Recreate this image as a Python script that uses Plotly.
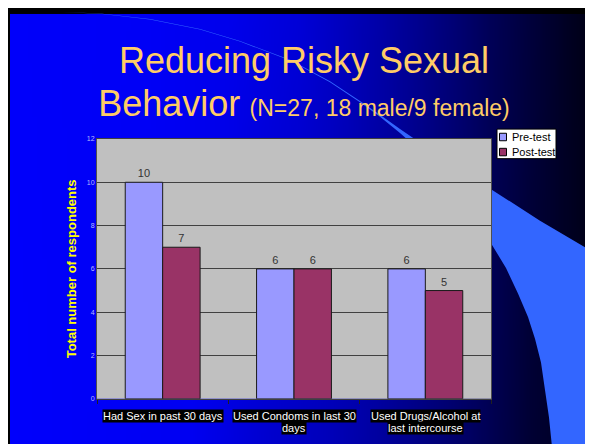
import base64
import struct
import zlib

import plotly.graph_objects as go

# ---------------- data ----------------
categories = [
    "Had Sex in past 30 days",
    "Used Condoms in last 30<br>days",
    "Used Drugs/Alcohol at<br>last intercourse",
]
pre_test = [10, 6, 6]
post_test = [7, 6, 5]
series_names = ["Pre-test", "Post-test"]
series_colors = ["#9999FF", "#993366"]
y_ticks = [0, 2, 4, 6, 8, 10, 12]

# page has an 8px body margin; the figure overflows the window slightly
OFF = 8
W, H = 593, 444
FONT = "Liberation Sans, Arial"


def px(sx, sy):
    """screen pixel -> paper coordinates"""
    return (sx - OFF) / W, 1 - (sy - OFF) / H


# ---------------- background gradient image (styling only) ----------------
top_stops = [(10, 250), (150, 246), (230, 236), (300, 215), (340, 192), (380, 168),
             (416, 144), (460, 112), (492, 86), (548, 48), (575, 30), (601, 14)]
bot_stops = [(10, 252), (190, 242), (265, 208), (330, 185), (378, 160), (430, 125),
             (473, 96), (530, 52), (601, 22)]


def interp(stops, x):
    if x <= stops[0][0]:
        return stops[0][1]
    for (x0, v0), (x1, v1) in zip(stops, stops[1:]):
        if x0 <= x <= x1:
            return v0 + (v1 - v0) * (x - x0) / (x1 - x0)
    return stops[-1][1]


IW, IH = 120, 40
img_x0, img_y0 = 10, 10
img_x1, img_y1 = OFF + W, OFF + H
rows = []
for j in range(IH):
    t = j / (IH - 1)
    row = bytearray()
    for i in range(IW):
        xx = img_x0 + (img_x1 - img_x0) * (i + 0.5) / IW
        b = (1 - t) * interp(top_stops, xx) + t * interp(bot_stops, xx)
        row += bytes([0, 0, max(0, min(255, int(round(b))))])
    rows.append(bytes(row))


def chunk(tag, data):
    c = struct.pack(">I", len(data)) + tag + data
    return c + struct.pack(">I", zlib.crc32(tag + data) & 0xFFFFFFFF)


raw = b"".join(b"\x00" + r for r in rows)
png = (b"\x89PNG\r\n\x1a\n"
       + chunk(b"IHDR", struct.pack(">IIBBBBB", IW, IH, 8, 2, 0, 0, 0))
       + chunk(b"IDAT", zlib.compress(raw, 9))
       + chunk(b"IEND", b""))
bg_uri = "data:image/png;base64," + base64.b64encode(png).decode()

# ---------------- swoosh (decoration) ----------------
outer = [(62, 7.9), (100, 9.6), (150, 15.2), (200, 25.2), (240, 37.4), (290, 56.6),
         (330, 78.3), (360, 98.5), (380, 112.5), (400, 127), (445, 158), (491, 188),
         (540, 220), (610, 262)]
inner = [(553, 460), (549, 420), (545, 392), (541, 364), (535, 340), (528, 318),
         (518, 294), (506, 268), (491, 243), (470, 207), (445, 176), (420, 149),
         (400, 131), (380, 114.5), (360, 99.8), (330, 79.3), (290, 57.4), (240, 38),
         (200, 25.7), (150, 15.6), (100, 9.9), (62, 8)]
pts = outer + [(610, 460)] + inner
path = "M " + " L ".join("%.5f,%.5f" % px(x, y) for x, y in pts) + " Z"

# ---------------- figure ----------------
fig = go.Figure()
for name, vals, col in zip(series_names, [pre_test, post_test], series_colors):
    fig.add_trace(go.Bar(
        x=categories, y=vals, name=name,
        marker=dict(color=col, line=dict(color="#1a1a1a", width=1)),
        text=vals, textposition="outside", cliponaxis=False,
        textfont=dict(size=11, color="#333333", family=FONT),
    ))

annotations = []
# category labels drawn as black-highlighted text below the axis
label_rows = [418, 430.5]
for cat in categories:
    for k, line in enumerate(cat.split("<br>")):
        annotations.append(dict(
            x=cat, xref="x", y=px(0, label_rows[k])[1], yref="paper",
            text=line, showarrow=False, xanchor="center", yanchor="middle",
            font=dict(size=11, color="#FFFFFF", family=FONT),
            bgcolor="#000000", borderpad=0,
        ))

shapes = [
    # swoosh
    dict(type="path", xref="paper", yref="paper", path=path,
         fillcolor="#3366FF", line=dict(width=0), layer="below"),
    # silver plot area
    dict(type="rect", xref="x domain", yref="y domain", x0=0, x1=1, y0=0, y1=1,
         fillcolor="#C0C0C0", line=dict(width=0), layer="below"),
]

# legend box (white, black border) with swatches and labels
lx0, ly0 = px(497, 127)
lx1, ly1 = px(556, 157)
shapes.append(dict(type="rect", xref="paper", yref="paper", x0=lx0, x1=lx1,
                   y0=ly1, y1=ly0, fillcolor="#FFFFFF",
                   line=dict(color="#000000", width=1), layer="above"))
for k, (name, col) in enumerate(zip(series_names, series_colors)):
    cy = 135 + 15.3 * k
    sx0, sy0 = px(499.5, cy - 3.8)
    sx1, sy1 = px(506.5, cy + 3.8)
    shapes.append(dict(type="rect", xref="paper", yref="paper", x0=sx0, x1=sx1,
                       y0=sy1, y1=sy0, fillcolor=col,
                       line=dict(color="#000000", width=1), layer="above"))
    tx, ty = px(509.5, cy)
    annotations.append(dict(x=tx, y=ty, xref="paper", yref="paper", text=name,
                            showarrow=False, xanchor="left", yanchor="middle",
                            font=dict(size=11, color="#000000", family=FONT)))

title_text = ("<span style='font-size:36px'>Reducing Risky Sexual</span><br>"
              "<span style='font-size:36px'>Behavior</span> "
              "<span style='font-size:23px'>(N=27, 18 male/9 female)</span>")

tx, ty = px(304, 0)
fig.update_layout(
    width=W, height=H,
    margin=dict(l=0, r=0, t=0, b=0),
    paper_bgcolor="#000000",
    plot_bgcolor="rgba(0,0,0,0)",
    font=dict(family=FONT, color="#000000"),
    barmode="group", bargap=0.43, bargroupgap=0,
    showlegend=False,
    title=dict(
        text=title_text,
        x=tx, xanchor="center", xref="paper",
        y=1 - 65 / H, yanchor="top", yref="container",
        font=dict(size=33.3, color="#FFCC66", family=FONT),
    ),
    xaxis=dict(
        domain=[px(97, 0)[0], px(491, 0)[0]], type="category",
        showticklabels=False, ticks="outside", tickson="boundaries",
        ticklen=4, tickcolor="#202020",
        showline=True, linecolor="#404040", mirror=True, showgrid=False,
    ),
    yaxis=dict(
        domain=[px(0, 401)[1], px(0, 137)[1]], range=[0, 12],
        tickvals=y_ticks, ticks="",
        tickfont=dict(size=7, color="#B8B8FF"),
        showgrid=True, gridcolor="#404040", gridwidth=1, zeroline=False,
        showline=True, linecolor="#505050", mirror=True,
        title=dict(text="Total number of respondents", standoff=7,
                   font=dict(size=13, color="#FFFF00", weight="bold")),
    ),
    images=[dict(source=bg_uri, xref="paper", yref="paper",
                 x=px(img_x0, 0)[0], y=px(0, img_y0)[1],
                 sizex=(img_x1 - img_x0) / W, sizey=(img_y1 - img_y0) / H,
                 xanchor="left", yanchor="top",
                 sizing="stretch", layer="below")],
    shapes=shapes,
    annotations=annotations,
)

fig.write_html(
    "out.html",
    post_script="document.documentElement.style.overflow='hidden';"
                "document.body.style.overflow='hidden';",
)
